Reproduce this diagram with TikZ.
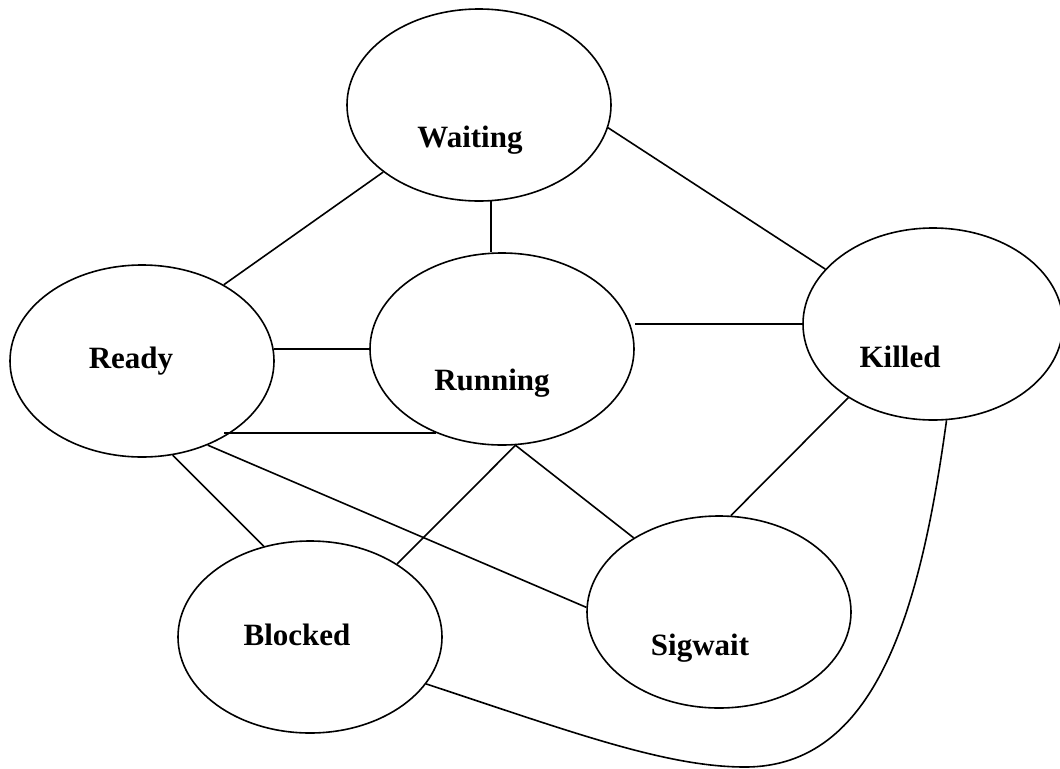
\documentclass[tikz,border=0pt]{standalone}
\usepackage{fontspec}
\setmainfont{Liberation Serif}
\usetikzlibrary{shapes.geometric}
\begin{document}
\begin{tikzpicture}[x=0.75pt,y=-0.75pt,
  statebox/.style={draw, ellipse, inner sep=0pt, line width=1.2pt,
    minimum width=198pt, minimum height=144pt},
  statename/.style={font=\fontsize{23.25}{28}\selectfont\bfseries,
    anchor=base, inner sep=0pt},
  link/.style={line width=1.2pt}]
\useasboundingbox[fill=white] (0,0) rectangle (1060,768);

% states
\node[statebox] (wait)  at (479,105) {};
\node[statebox] (ready) at (142,361) {};
\node[statebox] (run)   at (502,349) {};
\node[statebox, minimum width=195pt] (kill) at (933,324) {};
\node[statebox] (blk)   at (310,637) {};
\node[statebox] (sig)   at (719,612) {};

% state names
\node[statename] (twait)  at (470,147) {Waiting};
\node[statename] (tready) at (131,368) {Ready};
\node[statename] (trun)   at (492,390) {Running};
\node[statename] (tkill)  at (900,367) {Killed};
\node[statename] (tblk)   at (297,645) {Blocked};
\node[statename] (tsig)   at (700,655) {Sigwait};

% transitions
\draw[link] (wait.-145.6) -- (ready.43.1);
\draw[link] (wait.-83) -- (wait.-83 |- run.north);
\draw[link] (wait.-10) -- (kill.153.9);
\draw[link] (run.west) -- (run.west -| ready.5);
\draw[link] (run.-128.2) -- (run.-128.2 -| ready.-43.5);
\draw[link] (kill.west) -- (kill.west -| run.east);
\draw[link] (ready.-72.9) -- (blk.117.1);
\draw[link] (ready.-52.7) -- (sig.178.3);
\draw[link] (run.-82.3) -- (blk.40.3);
\draw[link] (run.-82.3) -- (sig.139.4);
\draw[link] (kill.221.7) -- (sig.83.4);
\draw[link] (blk.-22) .. controls (569,731) and (665,767) .. (745,767)
  .. controls (875,767) and (920,614) .. (kill.-82);
\end{tikzpicture}
\end{document}
